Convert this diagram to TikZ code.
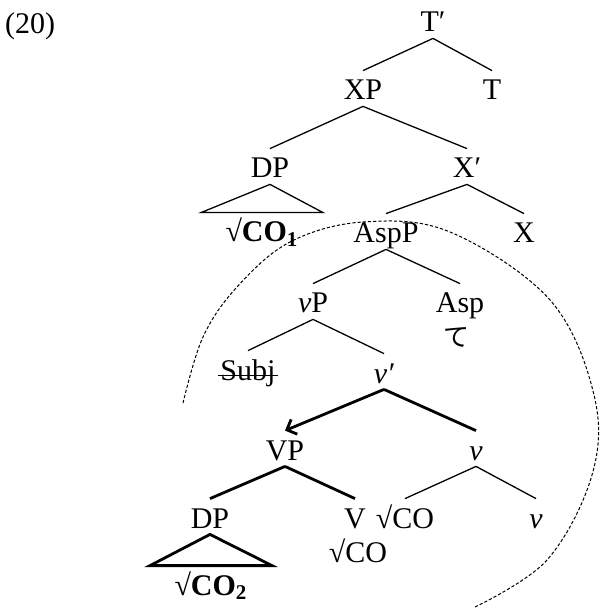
\documentclass[tikz,border=0pt]{standalone}
\usepackage{fontspec}
\setmainfont{Liberation Serif}
\newfontfamily\jafont{Noto Sans CJK JP}
\usetikzlibrary{arrows.meta,positioning}

\begin{document}
\begin{tikzpicture}[
  x=0.5pt,y=-0.5pt,
  font=\fontsize{15}{17}\selectfont,
  cat/.style={anchor=base,inner xsep=1pt,inner ysep=3pt,text height=11.5pt,text depth=0pt},
  br/.style={line width=0.65pt},
  hv/.style={line width=1.4pt},
  circ/.style={line width=0.5pt,dash pattern=on 1.6pt off 1pt}
]
  \useasboundingbox (0,0) rectangle (601,608);

  \node[anchor=base] (ex) at (30,34) {(20)};

  \node[cat] (Tbar) at (433,32) {T′};
  \node[cat] (XP) at (363,100) {XP};
  \node[cat] (T) at (492,100) {T};
  \node[cat] (DP) at (270,178) {DP};
  \node[cat] (Xbar) at (467,178) {X′};
  \node[cat] (COa) at (262,242) {\textbf{√CO\textsubscript{1}}};
  \node[cat] (AspP) at (386,243) {AspP};
  \node[cat] (X) at (524,243) {X};
  \node[cat] (vP) at (313,313) {\textit{v}P};
  \node[cat] (Asp) at (460,313) {Asp};
  \node[font=\jafont\fontsize{13}{15}\selectfont,inner sep=0pt,below=7pt of Asp.base,xshift=-2pt] (te) {て};
  \node[cat] (Subj) at (248,380) {Subj};
  \node[cat] (vbar) at (384,383) {\textit{v′}};
  \node[cat] (VP) at (285,460) {VP};
  \node[cat] (v) at (476,460) {\textit{v}};
  \node[cat] (DPb) at (210,528) {DP};
  \node[cat] (V) at (355,528) {V};
  \node[cat] (CO) at (405,528) {√CO};
  \node[cat] (vlow) at (536,528) {\textit{v}};
  \node[cat] (COv) at (358,562) {√CO};
  \node[cat] (COb) at (211,595) {\textbf{√CO\textsubscript{2}}};

  \draw[br] ([yshift=2.3pt]Subj.base west) -- ([yshift=2.3pt]Subj.base east);

  \draw[br] (Tbar.south) -- (XP.north);
  \draw[br] (Tbar.south) -- (T.north);
  \draw[br] (XP.south) -- (DP.north);
  \draw[br] (XP.south) -- (Xbar.north);
  \draw[br] (DP.south) -- ([xshift=-30.5pt]COa.north) -- ([xshift=30.5pt]COa.north) -- cycle;
  \draw[br] (Xbar.south) -- (AspP.north);
  \draw[br] (Xbar.south) -- (X.north);
  \draw[br] (AspP.south) -- (vP.north);
  \draw[br] (AspP.south) -- (Asp.north);
  \draw[br] (vP.south) -- (Subj.north);
  \draw[br] (vP.south) -- (vbar.north);
  \draw[hv,-{Straight Barb[length=4pt,width=8pt]}] (vbar.south) -- (VP.north);
  \draw[hv] (vbar.south) -- (v.north);
  \draw[hv] (VP.south) -- (DPb.north);
  \draw[hv] (VP.south) -- (V.north);
  \draw[hv] (DPb.south) -- ([xshift=-30.5pt]COb.north) -- ([xshift=30.5pt]COb.north) -- cycle;
  \draw[br] (v.south) -- (CO.north);
  \draw[br] (v.south) -- (vlow.north);

  \draw[circ] plot[smooth,tension=0.6] coordinates {(183,403) (203,337) (237,287) (290,242) (363,222) (450,232) (550,300) (594,395) (592,475) (547,560) (475,607)};
\end{tikzpicture}
\end{document}
